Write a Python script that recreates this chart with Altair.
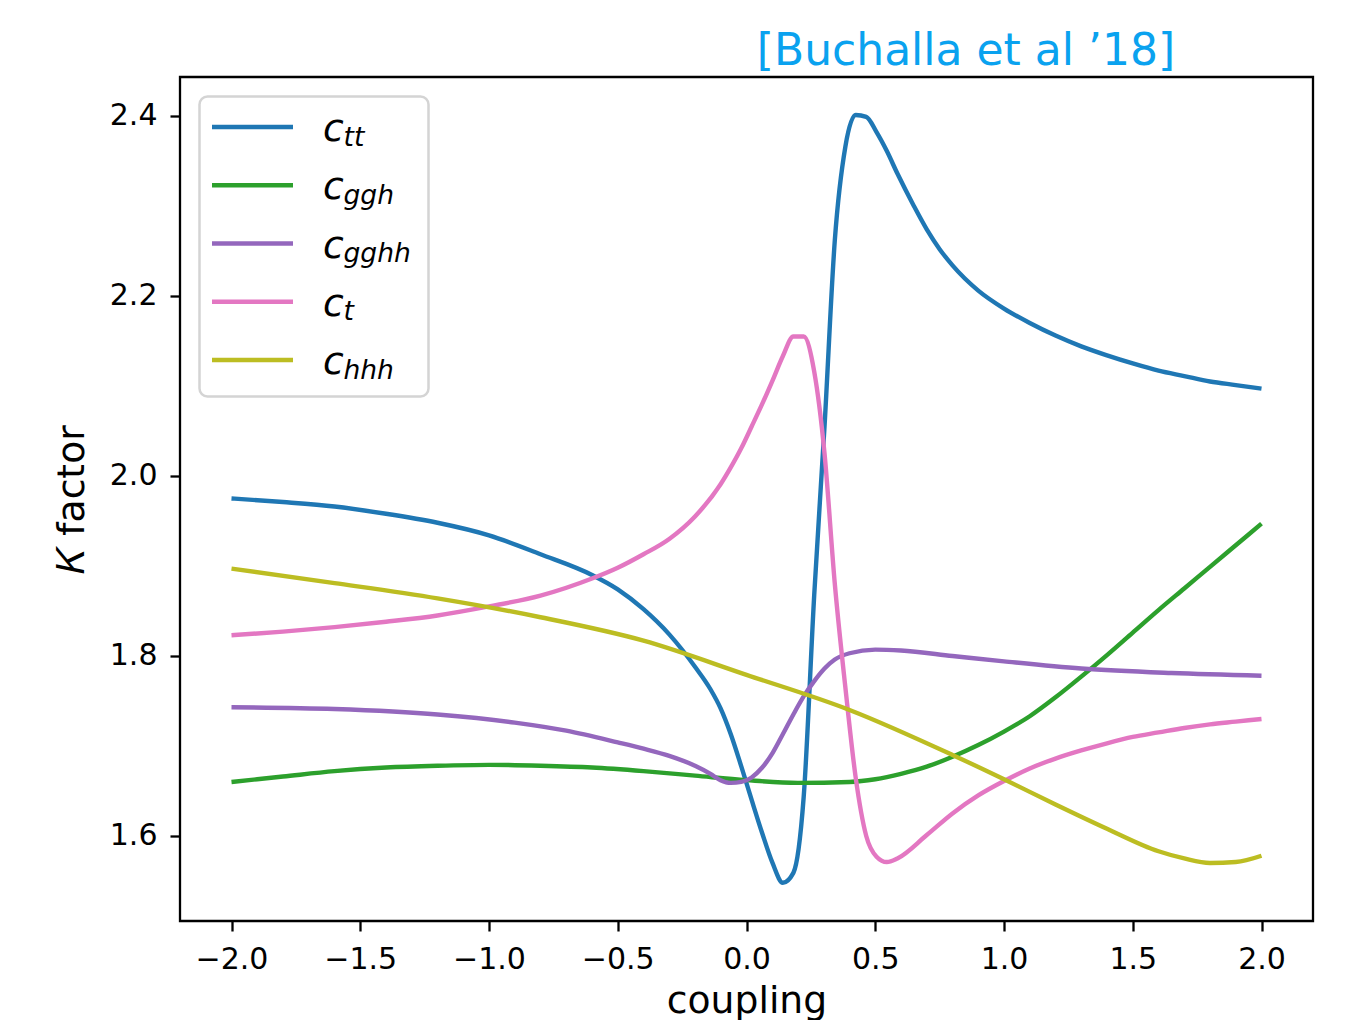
import altair as alt
import pandas as pd

# ---------------- data ----------------
ctt_x = [-2.0, -1.8, -1.6, -1.4, -1.2, -1.0, -0.8, -0.6, -0.5, -0.4, -0.3, -0.2,
         -0.14, -0.101, -0.061, -0.020, 0.020, 0.061, 0.101, 0.141, 0.182, 0.222,
         0.263, 0.303, 0.343, 0.384, 0.424, 0.465, 0.505, 0.545, 0.586, 0.65, 0.7,
         0.75, 0.8, 0.9, 1.0, 1.1, 1.2, 1.3, 1.4, 1.5, 1.6, 1.7, 1.8, 1.9, 2.0]
ctt_y = [1.975, 1.971, 1.966, 1.958, 1.948, 1.934, 1.913, 1.890, 1.874, 1.852, 1.824, 1.788,
         1.763, 1.742, 1.713, 1.677, 1.640, 1.603, 1.570, 1.548, 1.559, 1.643,
         1.868, 2.055, 2.262, 2.366, 2.401, 2.399, 2.382, 2.361, 2.336, 2.300, 2.274,
         2.252, 2.234, 2.206, 2.186, 2.170, 2.156, 2.144, 2.134, 2.125, 2.117, 2.111,
         2.105, 2.101, 2.097]

cggh_x = [-2.0, -1.8, -1.6, -1.4, -1.2, -1.0, -0.8, -0.6, -0.4, -0.2, 0.0, 0.2, 0.4,
          0.5, 0.6, 0.7, 0.8, 0.9, 1.0, 1.1, 1.2, 1.3, 1.4, 1.5, 1.6, 1.7, 1.8, 1.9, 2.0]
cggh_y = [1.660, 1.666, 1.672, 1.676, 1.678, 1.679, 1.678, 1.676, 1.672, 1.667, 1.662,
          1.659, 1.660, 1.663, 1.669, 1.677, 1.688, 1.701, 1.716, 1.733, 1.754, 1.777,
          1.801, 1.826, 1.851, 1.875, 1.899, 1.923, 1.947]

cgghh_x = [-2.0, -1.6, -1.2, -0.9, -0.7, -0.5, -0.4, -0.3, -0.2, -0.14, -0.101, -0.061,
           -0.020, 0.020, 0.061, 0.101, 0.141, 0.182, 0.222, 0.263, 0.303, 0.343, 0.4,
           0.5, 0.6, 0.8, 1.0, 1.3, 1.65, 2.0]
cgghh_y = [1.743, 1.741, 1.735, 1.726, 1.717, 1.704, 1.697, 1.689, 1.678, 1.669, 1.662,
           1.659, 1.660, 1.665, 1.676, 1.692, 1.713, 1.735, 1.755, 1.772, 1.786, 1.796,
           1.803, 1.807, 1.806, 1.800, 1.794, 1.786, 1.781, 1.778]

ct_x = [-2.0, -1.8, -1.6, -1.4, -1.2, -1.0, -0.8, -0.6, -0.5, -0.4, -0.3, -0.2, -0.1,
        -0.06, -0.02, 0.020, 0.061, 0.101, 0.141, 0.182, 0.222, 0.263, 0.303, 0.343,
        0.384, 0.424, 0.465, 0.505, 0.545, 0.586, 0.7, 0.8, 0.9, 1.0, 1.1, 1.2, 1.3,
        1.4, 1.5, 1.6, 1.7, 1.8, 1.9, 2.0]
ct_y = [1.823, 1.827, 1.832, 1.838, 1.845, 1.855, 1.867, 1.886, 1.898, 1.913, 1.930,
        1.955, 1.991, 2.010, 2.031, 2.055, 2.080, 2.106, 2.133, 2.155, 2.155, 2.116,
        2.025, 1.880, 1.765, 1.665, 1.600, 1.577, 1.571, 1.575, 1.601, 1.625, 1.645,
        1.661, 1.675, 1.686, 1.695, 1.703, 1.710, 1.715, 1.720, 1.724, 1.727, 1.730]

chhh_x = [-2.0, -1.6, -1.2, -0.8, -0.4, 0.0, 0.4, 0.8, 1.0, 1.2, 1.4, 1.6, 1.7, 1.8,
          1.9, 2.0]
chhh_y = [1.897, 1.881, 1.864, 1.843, 1.817, 1.779, 1.740, 1.690, 1.663, 1.635, 1.608,
          1.583, 1.575, 1.570, 1.571, 1.578]

series_names = ["ctt", "cggh", "cgghh", "ct", "chhh"]
legend_main = ["c", "c", "c", "c", "c"]
legend_sub = ["tt", "ggh", "gghh", "t", "hhh"]
colors = ["#1f77b4", "#2ca02c", "#9467bd", "#e377c2", "#bcbd22"]

x_ticks = [-2.0, -1.5, -1.0, -0.5, 0.0, 0.5, 1.0, 1.5, 2.0]
y_ticks = [1.6, 1.8, 2.0, 2.2, 2.4]

FONT = "DejaVu Sans"

xs = [ctt_x, cggh_x, cgghh_x, ct_x, chhh_x]
ys = [ctt_y, cggh_y, cgghh_y, ct_y, chhh_y]

x_scale = alt.Scale(domain=[-2.2, 2.2], nice=False, zero=False)
y_scale = alt.Scale(domain=[1.5055, 2.4433], nice=False, zero=False)

x_axis = alt.Axis(values=x_ticks, format=".1f", title="coupling", grid=False,
                  domain=False, tickSize=10, tickWidth=2.3, tickColor="black",
                  labelFontSize=30, labelFont=FONT, labelColor="black",
                  labelBaseline="alphabetic", labelPadding=37, labelFlush=False,
                  titleFontSize=37.7, titleFont=FONT, titleFontWeight="normal",
                  titleColor="black", titleBaseline="alphabetic", titleY=91,
                  zindex=1)
y_axis = alt.Axis(values=y_ticks, format=".1f", title="𝐾 factor", grid=False,
                  domain=False, tickSize=10, tickWidth=2.3, tickColor="black",
                  labelFontSize=30, labelFont=FONT, labelColor="black",
                  labelPadding=13, labelFlush=False,
                  titleFontSize=37.7, titleFont=FONT, titleFontWeight="normal",
                  titleColor="black", titleBaseline="alphabetic", titleX=-97,
                  titleAngle=270, zindex=1)

line_layers = []
for i, name in enumerate(series_names):
    df = pd.DataFrame({"coupling": xs[i], "K": ys[i]})
    line_layers.append(
        alt.Chart(df).mark_line(color=colors[i], strokeWidth=4.4,
                                interpolate="monotone")
        .encode(x=alt.X("coupling:Q", scale=x_scale, axis=x_axis),
                y=alt.Y("K:Q", scale=y_scale, axis=y_axis))
    )
lines = alt.layer(*line_layers)

# ---------------- legend (inside the axes, upper left) ----------------
leg_df = pd.DataFrame({"series": series_names, "main": legend_main,
                       "sub": legend_sub})
leg_y = alt.Y("series:N", sort=series_names,
              scale=alt.Scale(type="point", range=[50, 283], padding=0),
              axis=None)
leg_color = alt.Color("series:N", scale=alt.Scale(domain=series_names, range=colors),
                      legend=None)

box = alt.Chart(pd.DataFrame({"b": [0]})).mark_rect(
    fill="white", fillOpacity=0.85, stroke="#d4d4d4", strokeWidth=2.5,
    cornerRadius=8
).encode(x=alt.value(19.5), x2=alt.value(248.5), y=alt.value(19.5), y2=alt.value(319.5))

swatch = alt.Chart(leg_df).mark_rule(strokeWidth=4.4).encode(
    x=alt.value(32), x2=alt.value(113), y=leg_y, color=leg_color)

main_txt = alt.Chart(leg_df).mark_text(
    font=FONT, fontSize=37.7, fontStyle="italic", align="left",
    baseline="alphabetic", dy=14, color="black"
).encode(x=alt.value(143), y=leg_y, text="main:N")

sub_txt = alt.Chart(leg_df).mark_text(
    font=FONT, fontSize=26.5, fontStyle="italic", align="left",
    baseline="alphabetic", dy=18.5, color="black"
).encode(x=alt.value(163.5), y=leg_y, text="sub:N")

legend = alt.layer(box, swatch, main_txt, sub_txt)

chart = alt.layer(lines, legend).resolve_scale(
    y="independent", color="independent"
).properties(
    width=1133, height=844,
    title=alt.TitleParams(text="[Buchalla et al ’18]", font=FONT, fontSize=44,
                          fontWeight="normal", color="#0aa2ef", anchor="middle",
                          frame="group", dx=219.5, dy=43, offset=11,
                          baseline="alphabetic"),
    autosize=alt.AutoSizeParams(type="none"),
    padding={"left": 172, "top": 69, "right": 40, "bottom": 99},
    background="white",
).configure_view(
    stroke="black", strokeWidth=2.3, fill="white"
)

chart.save("out.html", embed_options={"renderer": "svg", "actions": False})
